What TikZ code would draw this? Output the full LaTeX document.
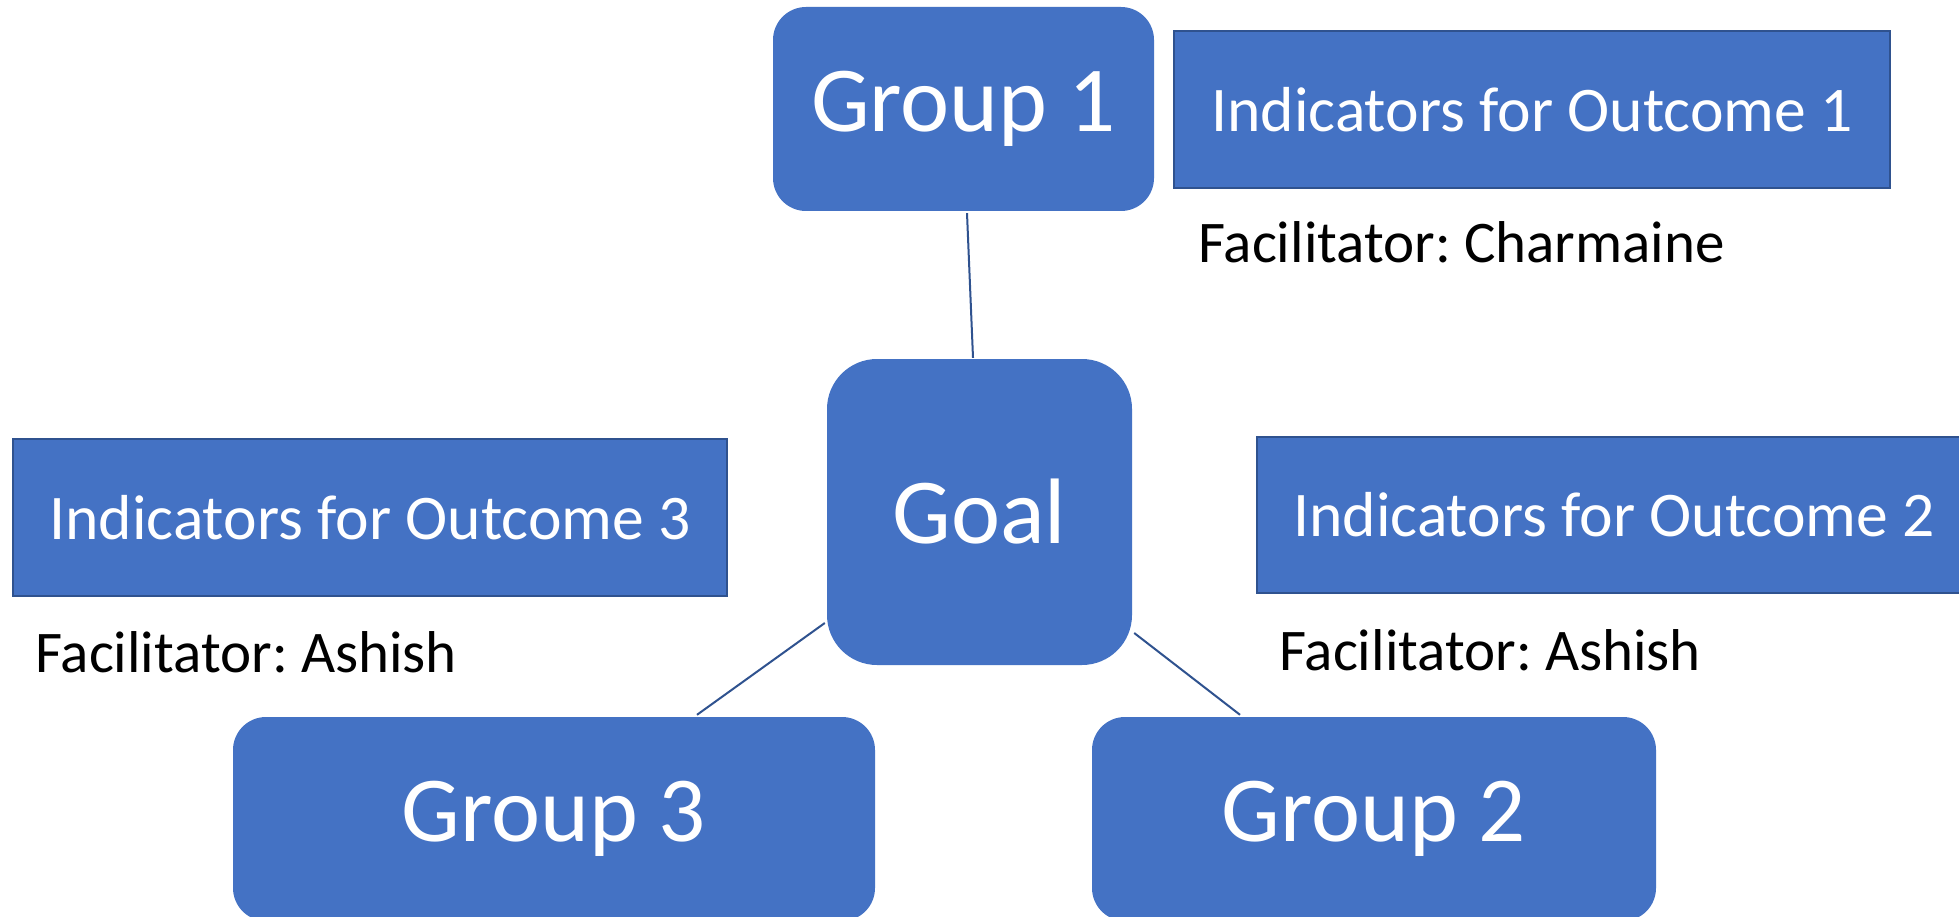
\documentclass[tikz,border=0pt]{standalone}
\usepackage{fontspec}
\setmainfont{Carlito}
\frenchspacing
\definecolor{boxblue}{HTML}{4472C4}
\definecolor{edgeblue}{HTML}{2F528F}
\tikzset{
  groupbox/.style={rounded corners=#1, fill=boxblue, draw=none, text=white, inner sep=0pt, align=center},
  groupbox/.default=33pt,
  indbox/.style={fill=boxblue, draw=edgeblue, line width=1.5pt, text=white, inner sep=0pt, align=center,
    font=\fontsize{63.6}{72}\selectfont},
  bigtext/.style={font=\fontsize{93}{110}\selectfont},
  factext/.style={anchor=base west, inner sep=0pt, text=black, font=\fontsize{59}{68}\selectfont},
  link/.style={draw=edgeblue, line width=2pt}
}
\begin{document}
\begin{tikzpicture}[x=1pt,y=-1pt]
\useasboundingbox[fill=white] (0,0) rectangle (1959,917);
% rounded group boxes
\node[groupbox, bigtext, minimum width=381pt, minimum height=204pt] (g1) at (963.5,109) {Group 1};
\node[groupbox=50pt, bigtext, minimum width=305pt, minimum height=306pt] (goal) at (979.5,512) {Goal};
\node[groupbox, bigtext, minimum width=642pt, minimum height=204pt] (g3) at (554,819) {Group 3};
\node[groupbox, bigtext, minimum width=564pt, minimum height=204pt] (g2) at (1374,819) {Group 2};
% indicator boxes
\node[indbox, minimum width=716pt, minimum height=157pt] (ind1) at (1532,109.5) {Indicators for Outcome 1};
\node[indbox, minimum width=714pt, minimum height=157pt] (ind3) at (370,517.5) {Indicators for Outcome 3};
\node[indbox, minimum width=714pt, minimum height=156pt] (ind2) at (1614,515) {Indicators for Outcome 2};
% facilitator labels
\node[factext] (fac1) at (1198,263) {Facilitator: Charmaine};
\node[factext] (fac3) at (35,672) {Facilitator: Ashish};
\node[factext] (fac2) at (1279,670) {Facilitator: Ashish};
% connectors
\draw[link] ([xshift=3.5pt,yshift=-2pt]g1.south) -- ([xshift=-6.5pt,yshift=1pt]goal.north);
\draw[link] ([xshift=-2pt,yshift=-111pt]goal.west) -- ([xshift=143pt,yshift=2pt]g3.north);
\draw[link] ([xshift=2pt,yshift=-121pt]goal.east) -- ([xshift=-134pt,yshift=2pt]g2.north);
\end{tikzpicture}
\end{document}
